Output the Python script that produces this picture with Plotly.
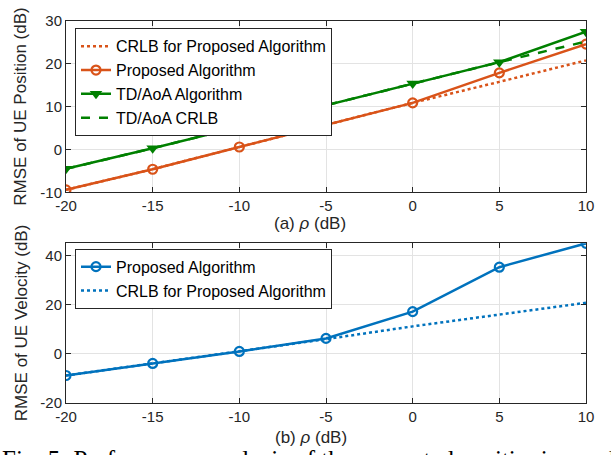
import plotly.graph_objects as go

# ---------------- data ----------------
rho = [-20, -15, -10, -5, 0, 5, 10]
xtick_vals = [-20, -15, -10, -5, 0, 5, 10]
xtick_text = ["-20", "-15", "-10", "-5", "0", "5", "10"]

pos_proposed = [-9.4, -4.6, 0.6, 5.8, 10.9, 17.9, 24.6]
pos_crlb = [-9.4, -4.6, 0.6, 5.8, 10.9, 15.8, 20.8]
tdoa_alg = [-4.5, 0.3, 5.3, 10.3, 15.4, 20.4, 27.5]
tdoa_crlb = [-4.5, 0.3, 5.3, 10.3, 15.4, 20.4, 25.2]

vel_proposed = [-8.8, -3.9, 1.0, 6.3, 17.2, 35.3, 45.0]
vel_crlb = [-8.8, -3.9, 1.0, 6.0, 11.2, 16.0, 20.8]

ytick1_vals = [-10, 0, 10, 20, 30]
ytick1_text = ["-10", "0", "10", "20", "30"]
ytick2_vals = [-20, 0, 20, 40]
ytick2_text = ["-20", "0", "20", "40"]

ORANGE = "#D95319"
GREEN = "#008000"
BLUE = "#0072BD"
AX = "#262626"
GRID = "#e3e3e3"
SANS = "Liberation Sans, Arial, sans-serif"

W, H = 611, 455
ML, MR, MT, MB = 66, 25, 13, 52
PH = H - MT - MB  # plot height in px


def py(px):
    """pixel row -> paper y"""
    return (H - MB - px) / PH


def px_x(px):
    return (px - ML) / (W - ML - MR)


fig = go.Figure()

# ---- top panel ----
fig.add_trace(go.Scatter(x=rho, y=pos_crlb, mode="lines", name="CRLB for Proposed Algorithm",
                         line=dict(color=ORANGE, width=2.5, dash="dot"),
                         xaxis="x", yaxis="y", legend="legend", legendrank=1))
fig.add_trace(go.Scatter(x=rho, y=pos_proposed, mode="lines+markers", name="Proposed Algorithm",
                         line=dict(color=ORANGE, width=2.5),
                         marker=dict(symbol="circle-open", size=9, color=ORANGE, line=dict(width=2.2)),
                         xaxis="x", yaxis="y", legend="legend", legendrank=2))
fig.add_trace(go.Scatter(x=rho, y=tdoa_crlb, mode="lines", name="TD/AoA CRLB",
                         line=dict(color=GREEN, width=2.5, dash="dash"),
                         xaxis="x", yaxis="y", legend="legend", legendrank=4))
fig.add_trace(go.Scatter(x=rho, y=tdoa_alg, mode="lines+markers", name="TD/AoA Algorithm",
                         line=dict(color=GREEN, width=2.5),
                         marker=dict(symbol="triangle-down", size=11, color=GREEN),
                         xaxis="x", yaxis="y", legend="legend", legendrank=3))

# ---- bottom panel ----
fig.add_trace(go.Scatter(x=rho, y=vel_crlb, mode="lines", name="CRLB for Proposed Algorithm",
                         line=dict(color=BLUE, width=2.5, dash="dot"),
                         xaxis="x2", yaxis="y2", legend="legend2", legendrank=2))
fig.add_trace(go.Scatter(x=rho, y=vel_proposed, mode="lines+markers", name="Proposed Algorithm",
                         line=dict(color=BLUE, width=2.5),
                         marker=dict(symbol="circle-open", size=9, color=BLUE, line=dict(width=2.2)),
                         xaxis="x2", yaxis="y2", legend="legend2", legendrank=1))

axis_common = dict(showline=True, linecolor=AX, linewidth=1, mirror="ticks",
                   ticks="inside", ticklen=5, tickcolor=AX, tickwidth=1,
                   showgrid=True, gridcolor=GRID, gridwidth=1, zeroline=False,
                   tickfont=dict(family=SANS, size=15, color=AX))

top_dom = [py(188), 1.0]
bot_dom = [0.0, py(240)]

legend_common = dict(xanchor="left", yanchor="top", bgcolor="white", bordercolor=AX,
                     borderwidth=1, font=dict(family=SANS, size=16, color="black"),
                     tracegroupgap=0, itemwidth=30)

fig.update_layout(
    width=W, height=H,
    margin=dict(l=ML, r=MR, t=MT, b=MB),
    paper_bgcolor="white", plot_bgcolor="white",
    font=dict(family=SANS, color=AX),
    xaxis=dict(domain=[0, 1], range=[-20, 10], tickvals=xtick_vals, ticktext=xtick_text,
               anchor="y", **axis_common),
    yaxis=dict(domain=top_dom, range=[-10, 30], tickvals=ytick1_vals, ticktext=ytick1_text,
               anchor="x", **axis_common),
    xaxis2=dict(domain=[0, 1], range=[-20, 10], tickvals=xtick_vals, ticktext=xtick_text,
                anchor="y2", **axis_common),
    yaxis2=dict(domain=bot_dom, range=[-20, 45], tickvals=ytick2_vals, ticktext=ytick2_text,
                anchor="x2", **axis_common),
    legend=dict(x=px_x(75), y=py(20.5), **legend_common),
    legend2=dict(x=px_x(75), y=py(245.5), **legend_common),
    showlegend=True,
)

xlab_font = dict(family=SANS, size=17, color=AX)
ylab_font = dict(family=SANS, size=17, color=AX)
fig.add_annotation(text="(a) <i>ρ</i> (dB)", xref="paper", yref="paper",
                   x=px_x(310), y=py(220), xanchor="center", yanchor="middle",
                   showarrow=False, font=xlab_font)
fig.add_annotation(text="(b) <i>ρ</i> (dB)", xref="paper", yref="paper",
                   x=px_x(311), y=py(438), xanchor="center", yanchor="middle",
                   showarrow=False, font=xlab_font)
fig.add_annotation(text="RMSE of UE Position (dB)", xref="paper", yref="paper",
                   x=px_x(21), y=py(100.5), xanchor="center", yanchor="middle",
                   textangle=-90, showarrow=False, font=ylab_font)
fig.add_annotation(text="RMSE of UE Velocity (dB)", xref="paper", yref="paper",
                   x=px_x(21), y=py(321.5), xanchor="center", yanchor="middle",
                   textangle=-90, showarrow=False, font=ylab_font)
fig.add_annotation(text="Fig. 5: Performance analysis of the presented positioning and",
                   xref="paper", yref="paper", x=px_x(0), y=py(445),
                   xanchor="left", yanchor="top", showarrow=False,
                   font=dict(family="Liberation Serif, Times New Roman, serif", size=25, color="black"))

fig.write_html("out.html", config={"displayModeBar": False},
               post_script="document.body.style.margin='0';")
